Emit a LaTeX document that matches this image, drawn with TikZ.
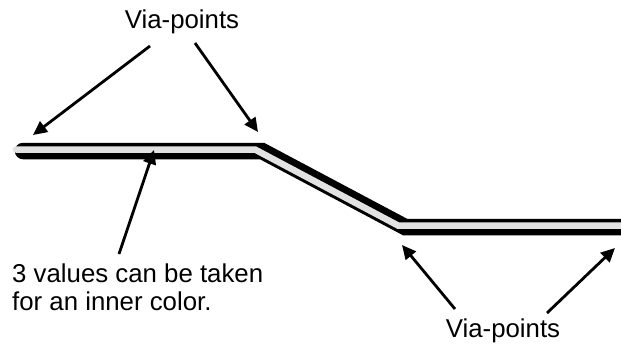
\documentclass[tikz,border=0pt]{standalone}
\usepackage{fontspec}
\setmainfont{Liberation Sans}
\usetikzlibrary{arrows.meta}
\definecolor{tubegray}{RGB}{226,226,226}
\begin{document}
\begin{tikzpicture}[x=1pt,y=-1pt,
  ptr/.style={line width=2.8pt,-{Triangle[length=14pt,width=13pt]}},
  lbl/.style={font=\fontsize{25.8}{28}\selectfont,inner sep=0pt}]
\useasboundingbox (0,0) rectangle (621,349);
\begin{scope}
\clip (0,0) rectangle (621,349);
\draw[line width=16.5pt,line cap=round,line join=miter] (23,151) -- (262,151) -- (405,227) -- (640,227);
\draw[line width=6.5pt,color=tubegray,line cap=round,line join=miter] (16,149.5) -- (255,149.5) -- (398,225.5) -- (640,225.5);
\end{scope}
\node[lbl,anchor=base] (top) at (182,28) {Via-points};
\node[lbl,anchor=base] (bot) at (503,337) {Via-points};
\node[lbl,anchor=base west] (note1) at (12,282) {3 values can be taken};
\node[lbl,anchor=base west] (note2) at (12,310) {for an inner color.};
\coordinate (s1) at (150,46);
\coordinate (t1) at (33,135);
\coordinate (s2) at (195,43);
\coordinate (t2) at (258,132);
\coordinate (s3) at (119,254);
\coordinate (t3) at (154,150);
\coordinate (s4) at (455,309);
\coordinate (t4) at (402,245);
\coordinate (s5) at (547,313);
\coordinate (t5) at (615,248);
\draw[ptr] (s1) -- (t1);
\draw[ptr] (s2) -- (t2);
\draw[ptr] (s3) -- (t3);
\draw[ptr] (s4) -- (t4);
\draw[ptr] (s5) -- (t5);
\end{tikzpicture}
\end{document}
